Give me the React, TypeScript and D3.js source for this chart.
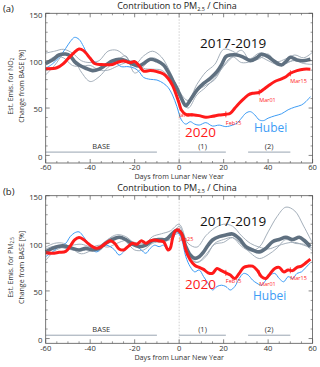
import * as d3 from "d3";

type Pt = [number, number];

// ---- axis ticks ----
const xMajor = [-60, -40, -20, 0, 20, 40, 60];
const xMinor = [-55, -50, -45, -35, -30, -25, -15, -10, -5, 5, 10, 15, 25, 30, 35, 45, 50, 55];
const yMajor = [0, 50, 100, 150];
const yMinor = [10, 20, 30, 40, 60, 70, 80, 90, 110, 120, 130, 140];

// ---- periods ----
const periodNames = ["BASE", "(1)", "(2)"];
const periodStart = [-60, 0, 31];
const periodEnd = [-10, 21, 50];

// ---- date marks on the 2020 line ----
const markDays = [0, 21, 36, 50];
const markNames = ["Jan25", "Feb15", "Mar01", "Mar15"];

// thin lines are sampled every 4 days
const thinDays = [-60, -56, -52, -48, -44, -40, -36, -32, -28, -24, -20, -16, -12, -8, -4, 0,
  4, 8, 12, 16, 20, 24, 28, 32, 36, 40, 44, 48, 52, 56, 60];

// ================= panel (a) : NO2 =================
const no2Year1 = [108, 110, 112, 108, 100, 98, 100, 110, 111, 104, 96, 105, 110, 104, 88, 68,
  58, 75, 88, 96, 112, 110, 104, 102, 108, 106, 99, 102, 106, 103, 109];
const no2Year2 = [85, 95, 106, 104, 88, 78, 83, 93, 100, 105, 87, 94, 103, 98, 82, 63,
  50, 64, 72, 82, 94, 104, 111, 100, 102, 107, 95, 98, 100, 97, 96];
const no2Year3 = [98, 104, 103, 95, 94, 95, 90, 90, 94, 98, 100, 92, 91, 90, 81, 63,
  54, 68, 74, 80, 95, 104, 98, 99, 104, 100, 96, 97, 101, 101, 100];

const no2Mean: Pt[] = [
  [-60, 97], [-57, 100.7], [-54, 106], [-51, 107], [-49, 105], [-47, 99], [-45, 95.4], [-42, 92],
  [-39, 89.5], [-36, 91], [-33, 95.4], [-30, 99.7], [-27, 101.4], [-24, 100], [-21, 96.5],
  [-18, 94.4], [-16, 97], [-13, 101.4], [-10, 99.7], [-7, 95.4], [-5, 88.4], [-3, 79.6],
  [-1, 70.8], [1, 60.3], [3, 52.5], [5, 58.5], [8, 69], [11, 76], [14, 81.4], [17, 88.4],
  [19, 95.4], [21, 104.2], [23, 106], [26, 106], [29, 103.5], [32, 100], [35, 103.2],
  [37, 106.7], [40, 104.2], [43, 99], [46, 95.4], [48, 99], [50, 103.5], [53, 100.7],
  [56, 100], [59, 101.4],
];

const no2Hubei: Pt[] = [
  [-60, 92], [-57, 96.5], [-54, 103.5], [-51, 113], [-49, 120], [-47, 124.6], [-45, 122.5],
  [-43, 115], [-41, 106], [-38, 99], [-35, 95.4], [-32, 95.4], [-29, 98], [-26, 93.7],
  [-23, 93.7], [-20, 92], [-18, 88.4], [-16, 82.4], [-13, 80.3], [-10, 79.6], [-7, 76],
  [-5, 71.8], [-3, 63.8], [-1, 51.5], [1, 37.5], [3, 33], [5, 35.6], [7, 33], [9, 32],
  [12, 34.6], [15, 31], [18, 32], [21, 30.4], [24, 32], [26, 34], [28, 39.3], [30, 44.6],
  [32, 46.2], [34, 42.8], [36, 37.5], [38, 36.8], [40, 39.3], [43, 41.8], [46, 43.9],
  [49, 48.2], [52, 51], [55, 53.2], [57, 56.8], [59, 62],
];

const no2Y2020: Pt[] = [
  [-60, 91.5], [-55, 92.5], [-52, 97], [-50, 102], [-47, 109], [-45, 112.3], [-43, 110.6],
  [-40, 102.5], [-38, 97], [-35, 96], [-30, 96], [-28, 98], [-25, 99.7], [-22, 98],
  [-20, 99], [-18, 94.7], [-16, 89], [-13, 89.5], [-10, 88.4], [-7, 86], [-5, 81.4],
  [-3, 74], [-1, 62], [0, 55], [1, 48], [3, 43.4], [6, 43], [9, 42], [12, 40.3], [15, 41.3],
  [18, 42.7], [21, 43.4], [23, 44.5], [25, 49.8], [27, 55], [29, 59.6], [31, 63.8],
  [33, 65.6], [36, 66.6], [38, 69.8], [40, 73.3], [43, 78], [46, 80.7], [48, 83], [50, 86.7],
  [53, 89.5], [56, 91], [59, 91],
];

// ================= panel (b) : PM2.5 =================
const pmYear1 = [82, 92, 96, 98, 99, 96, 92, 104, 109, 107, 100, 98, 107, 110, 113, 120,
  100, 96, 108, 116, 120, 118, 108, 100, 96, 94, 97, 100, 101, 98, 95];
const pmYear2 = [96, 100, 100, 94, 89, 92, 97, 104, 107, 102, 93, 93, 100, 102, 104, 118,
  88, 80, 86, 100, 104, 106, 97, 92, 96, 112, 128, 138, 134, 118, 100];
const pmYear3 = [94, 97, 95, 93, 92, 95, 98, 96, 100, 103, 101, 100, 103, 101, 106, 110,
  86, 80, 88, 99, 101, 106, 99, 90, 84, 88, 95, 104, 100, 99, 92];

const pmMean: Pt[] = [
  [-60, 91], [-57, 94.7], [-54, 97], [-51, 97], [-48, 94.7], [-45, 93], [-42, 94.7],
  [-39, 93], [-36, 94.7], [-33, 100], [-30, 104], [-27, 106.3], [-24, 104], [-21, 99],
  [-18, 96.5], [-15, 98], [-12, 102.8], [-9, 104], [-6, 104], [-3, 110.5], [-1, 114],
  [1, 110.5], [3, 96.5], [5, 87.7], [7, 84.2], [9, 86], [11, 91], [13, 98], [15, 103.5],
  [18, 107], [21, 108.7], [24, 109.8], [27, 105], [30, 96.5], [33, 93], [36, 91],
  [39, 94.7], [42, 101.7], [45, 104], [48, 106.3], [51, 104], [54, 106.3], [56, 103.5],
  [59, 96.5],
];

const pmHubei: Pt[] = [
  [-60, 86], [-57, 91], [-54, 96.5], [-51, 100], [-49, 107], [-47, 111], [-45, 112],
  [-43, 107], [-41, 100], [-39, 93], [-37, 91], [-35, 94.7], [-33, 98], [-31, 96.5],
  [-29, 93], [-27, 87.7], [-25, 91], [-23, 96.5], [-21, 98], [-19, 96.5], [-17, 93],
  [-15, 89.5], [-13, 94.7], [-11, 98], [-9, 96.5], [-7, 98], [-5, 93], [-3, 103.5],
  [-1, 112], [1, 105], [3, 86], [5, 75.4], [7, 70], [9, 72], [11, 65], [13, 58], [15, 51],
  [17, 54.6], [19, 56], [21, 54.6], [23, 51], [25, 54.6], [27, 63], [29, 68.4], [31, 66.7],
  [33, 61.4], [35, 58], [37, 56], [39, 61.4], [41, 66.7], [43, 68.4], [45, 63], [47, 59.6],
  [49, 65], [51, 63], [53, 68.4], [55, 70], [57, 74.7], [59, 79.6],
];

const pmY2020: Pt[] = [
  [-60, 90], [-57, 89.5], [-54, 90.5], [-51, 91.5], [-49, 97], [-47, 103.5], [-45, 106],
  [-43, 104], [-41, 100], [-39, 96.5], [-37, 94.7], [-35, 96.5], [-33, 100], [-31, 102.8],
  [-29, 100], [-27, 94], [-25, 93], [-23, 96.5], [-21, 100], [-19, 99], [-17, 102.8],
  [-15, 100], [-13, 102.5], [-11, 103.5], [-9, 102.5], [-7, 101.7], [-5, 93], [-4, 94.7],
  [-3, 105], [-2, 112], [-1, 114], [0, 113.3], [1, 110.5], [2, 103.5], [3, 93], [5, 82.4],
  [7, 77], [9, 74.7], [11, 72.6], [13, 69], [15, 68.4], [17, 73.6], [19, 71.3], [21, 69],
  [23, 66.7], [25, 63], [27, 68.4], [29, 74.7], [31, 76], [33, 76], [35, 72], [37, 65],
  [39, 63], [41, 68.4], [43, 73.6], [45, 74.7], [47, 70], [49, 72], [51, 71.3], [53, 74.7],
  [55, 76], [57, 79.6], [59, 83.5],
];

const FONT = "'Open Sans', 'DejaVu Sans', sans-serif";
const RED = "#ff1a1a";
const BLUE = "#3d9cf5";
const MEAN = "#5f7080";
const THIN = "#9aa6b2";
const PERIOD = "#8c9aa8";

const x = d3.scaleLinear().domain([-60, 60]).range([45.7, 312.6]);

function valueAt(s: Pt[], day: number) {
  for (let i = 1; i < s.length; i++) {
    if (s[i][0] >= day) {
      const [d0, v0] = s[i - 1];
      const [d1, v1] = s[i];
      return v0 + ((v1 - v0) * (day - d0)) / (d1 - d0);
    }
  }
  return s[s.length - 1][1];
}

function Panel(props: any) {
  const { tag, top, bottom, domain, years, mean, hubei, y2020, species, markDy, legend } = props;
  const y = d3.scaleLinear().domain(domain).range([bottom, top]);
  const line = d3
    .line<Pt>()
    .x((d) => x(d[0]))
    .y((d) => y(d[1]))
    .curve(d3.curveCatmullRom.alpha(0.5));
  const left = x(-60);
  const right = x(60);
  const midY = (top + bottom) / 2 - 2;
  const barY = y(3.5);

  return (
    <g fontFamily={FONT}>
      <text x={3} y={top - 1} fontSize={9.5} fill="#222">({tag})</text>
      <text x={177} y={top - 4.5} fontSize={9} fill="#222" textAnchor="middle">
        Contribution to PM<tspan fontSize={5.5} dy={2}>2.5</tspan>
        <tspan dy={-2}> / China</tspan>
      </text>

      {/* zero-day divider */}
      <line x1={x(0)} x2={x(0)} y1={top} y2={bottom} stroke="#bbb" strokeWidth={0.7} strokeDasharray="1.5,1.5" />

      {/* period bars */}
      {periodNames.map((n, i) => (
        <g key={n}>
          <line x1={x(periodStart[i])} x2={x(periodEnd[i])} y1={barY} y2={barY} stroke={PERIOD} strokeWidth={0.9} />
          <text x={x((periodStart[i] + periodEnd[i]) / 2)} y={barY - 3} fontSize={7.5} fill="#333" textAnchor="middle">
            {n}
          </text>
        </g>
      ))}

      {years.map((vals: number[], i: number) => (
        <path key={i} d={line(thinDays.map((d, j) => [d, vals[j]] as Pt)) || ""} fill="none" stroke={THIN} strokeWidth={0.9} />
      ))}
      <path d={line(hubei) || ""} fill="none" stroke={BLUE} strokeWidth={1} />
      <path d={line(mean) || ""} fill="none" stroke={MEAN} strokeWidth={3.6} strokeLinejoin="round" />
      <path d={line(y2020) || ""} fill="none" stroke={RED} strokeWidth={3} strokeLinejoin="round" />

      {markDays.map((d, i) => {
        const v = valueAt(y2020, d);
        return (
          <g key={d}>
            <line x1={x(d)} x2={x(d)} y1={y(v) - 3} y2={y(v) + 3} stroke={RED} strokeWidth={0.8} />
            <text x={x(d)} y={y(v) + markDy[i] + 2} fontSize={5.5} fill={RED}>{markNames[i]}</text>
          </g>
        );
      })}

      <text x={legend.x1} y={legend.y1} fontSize={13.5} fill="#111">2017-2019</text>
      <text x={legend.x2} y={legend.y2} fontSize={13.5} fill={RED}>2020</text>
      <text x={legend.x3} y={legend.y3} fontSize={12} fill={BLUE}>Hubei</text>

      {/* frame and inward ticks */}
      <rect x={left} y={top} width={right - left} height={bottom - top} fill="none" stroke="#555" strokeWidth={0.8} />
      {xMajor.map((d) => (
        <g key={"xm" + d}>
          <line x1={x(d)} x2={x(d)} y1={bottom} y2={bottom - 4} stroke="#555" strokeWidth={0.7} />
          <line x1={x(d)} x2={x(d)} y1={top} y2={top + 4} stroke="#555" strokeWidth={0.7} />
          <text x={x(d)} y={bottom + 7.3} fontSize={7.6} fill="#333" textAnchor="middle">{d}</text>
        </g>
      ))}
      {xMinor.map((d) => (
        <g key={"xn" + d}>
          <line x1={x(d)} x2={x(d)} y1={bottom} y2={bottom - 2} stroke="#555" strokeWidth={0.6} />
          <line x1={x(d)} x2={x(d)} y1={top} y2={top + 2} stroke="#555" strokeWidth={0.6} />
        </g>
      ))}
      {yMajor.map((v) => (
        <g key={"ym" + v}>
          <line x1={left} x2={left + 4} y1={y(v)} y2={y(v)} stroke="#555" strokeWidth={0.7} />
          <line x1={right} x2={right - 4} y1={y(v)} y2={y(v)} stroke="#555" strokeWidth={0.7} />
          <text x={42.5} y={y(v) + 4.3} fontSize={7.8} fill="#333" textAnchor="end">{v}</text>
        </g>
      ))}
      {yMinor.map((v) => (
        <g key={"yn" + v}>
          <line x1={left} x2={left + 2} y1={y(v)} y2={y(v)} stroke="#555" strokeWidth={0.6} />
          <line x1={right} x2={right - 2} y1={y(v)} y2={y(v)} stroke="#555" strokeWidth={0.6} />
        </g>
      ))}

      <text x={x(0)} y={bottom + 16.2} fontSize={7.2} fill="#333" textAnchor="middle">Days from Lunar New Year</text>

      <text transform={`translate(12.5,${midY}) rotate(-90)`} fontSize={7} fill="#333" textAnchor="middle">
        Est. Emis. for {species}
      </text>
      <text transform={`translate(23.5,${midY}) rotate(-90)`} fontSize={7} fill="#333" textAnchor="middle">
        Change from BASE [%]
      </text>
    </g>
  );
}

export default function App() {
  return (
    <svg width={320} height={367} style={{ position: "absolute", left: 0, top: 0, background: "#fff" }}>
      <Panel
        tag="a"
        top={13.3}
        bottom={163}
        domain={[-8, 150]}
        years={[no2Year1, no2Year2, no2Year3]}
        mean={no2Mean}
        hubei={no2Hubei}
        y2020={no2Y2020}
        species={<>NO<tspan fontSize={4.5} dy={1.5}>2</tspan></>}
        markDy={[12, 9, 8, 7.5]}
        legend={{ x1: 200, y1: 47.5, x2: 185, y2: 136.5, x3: 254, y3: 132 }}
      />
      <Panel
        tag="b"
        top={195.7}
        bottom={343.3}
        domain={[-5, 150]}
        years={[pmYear1, pmYear2, pmYear3]}
        mean={pmMean}
        hubei={pmHubei}
        y2020={pmY2020}
        species={<>PM<tspan fontSize={4.5} dy={1.5}>2.5</tspan></>}
        markDy={[8, 8, 11, 8]}
        legend={{ x1: 200, y1: 225.5, x2: 185, y2: 288.5, x3: 253, y3: 300 }}
      />
    </svg>
  );
}
